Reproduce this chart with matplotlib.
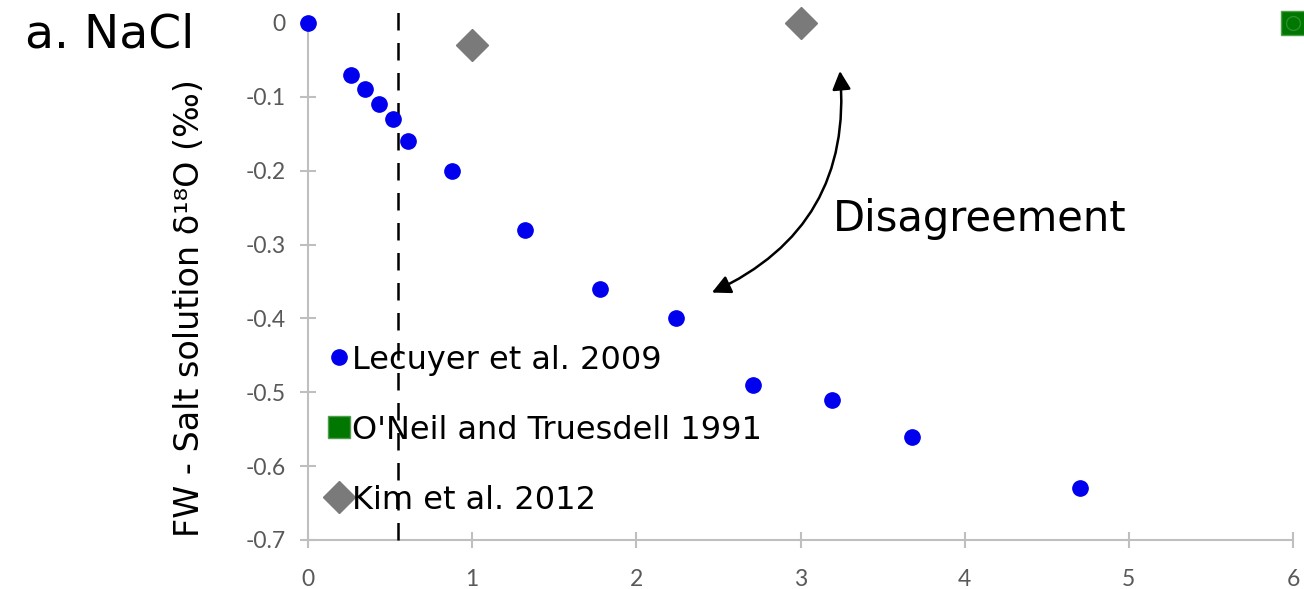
import matplotlib
matplotlib.use("Agg")
import matplotlib.pyplot as plt
from matplotlib.lines import Line2D

# Lecuyer et al. 2009 (molality vs offset)
lecuyer_x = [0.0, 0.26, 0.35, 0.43, 0.52, 0.61, 0.88, 1.32, 1.78, 2.24, 2.71, 3.19, 3.68, 4.70]
lecuyer_y = [0.0, -0.07, -0.09, -0.11, -0.13, -0.16, -0.20, -0.28, -0.36, -0.40, -0.49, -0.51, -0.56, -0.63]

# O'Neil and Truesdell 1991
oneil_x = [6.0]
oneil_y = [0.0]

# Kim et al. 2012
kim_x = [1.0, 3.0]
kim_y = [-0.03, 0.0]

dashed_x = 0.55
xticks = [0, 1, 2, 3, 4, 5, 6]
yticks = [0, -0.1, -0.2, -0.3, -0.4, -0.5, -0.6, -0.7]
ytick_labels = ["0", "-0.1", "-0.2", "-0.3", "-0.4", "-0.5", "-0.6", "-0.7"]

fig = plt.figure(figsize=(13.04, 5.89), dpi=100)
ax = fig.add_axes([0.2362, 0.0832, 0.7554, 0.8778])
ax.set_xlim(0, 6)
ax.set_ylim(-0.7, 0)

ax.plot(lecuyer_x, lecuyer_y, "o", color="#0000ee", markersize=11, clip_on=False, zorder=4)
ax.plot(oneil_x, oneil_y, "s", color="#007700", markeredgecolor="#4e9e4e", markersize=17, clip_on=False, zorder=4)
ax.plot(oneil_x, oneil_y, "o", markerfacecolor="none", markeredgecolor="#2e8e2e", markersize=10, clip_on=False, zorder=5)
ax.plot(kim_x, kim_y, "D", color="#7a7a7a", markersize=16, clip_on=False, zorder=4)

ax.plot([dashed_x, dashed_x], [-0.7, 0.03], color="black", linestyle=(0, (7, 5)), linewidth=1.8, clip_on=False, zorder=3)

for side in ["top", "right"]:
    ax.spines[side].set_visible(False)
for side in ["left", "bottom"]:
    ax.spines[side].set_color("#bfbfbf")
    ax.spines[side].set_linewidth(1.5)

ax.set_xticks(xticks)
ax.set_yticks(yticks)
ax.set_yticklabels(ytick_labels)
ax.tick_params(direction="inout", length=12, width=1.5, color="#bfbfbf",
               labelcolor="#595959", labelsize=16.5)
ax.tick_params(axis="x", pad=15)
ax.tick_params(axis="y", pad=10)
for lbl in ax.get_xticklabels() + ax.get_yticklabels():
    lbl.set_family("Lato")

ax.set_ylabel("FW - Salt solution δ¹⁸O (‰)", fontsize=24)
ax.yaxis.set_label_coords(-0.104, 0.449)

fig.text(0.019, 0.94, "a. NaCl", fontsize=34, va="center", ha="left")

ax.annotate("", xy=(3.24, -0.065), xytext=(2.46, -0.365),
            arrowprops=dict(arrowstyle="<|-|>", color="black", lw=1.8,
                            mutation_scale=28, connectionstyle="arc3,rad=0.35",
                            shrinkA=0, shrinkB=0))
ax.text(3.2, -0.265, "Disagreement", fontsize=30, va="center", ha="left")

handles = [
    Line2D([], [], marker="o", linestyle="none", color="#0000ee", markersize=11),
    Line2D([], [], marker="s", linestyle="none", color="#007700", markeredgecolor="#4e9e4e", markersize=16),
    Line2D([], [], marker="D", linestyle="none", color="#7a7a7a", markersize=16),
]
labels = ["Lecuyer et al. 2009", "O'Neil and Truesdell 1991", "Kim et al. 2012"]
ax.legend(handles, labels, loc="upper left", bbox_to_anchor=(0.02, 0.378),
          frameon=False, fontsize=23, handlelength=0.7, handletextpad=0.05,
          labelspacing=1.22, borderpad=0, borderaxespad=0)

fig.savefig("out.png", dpi=100)
